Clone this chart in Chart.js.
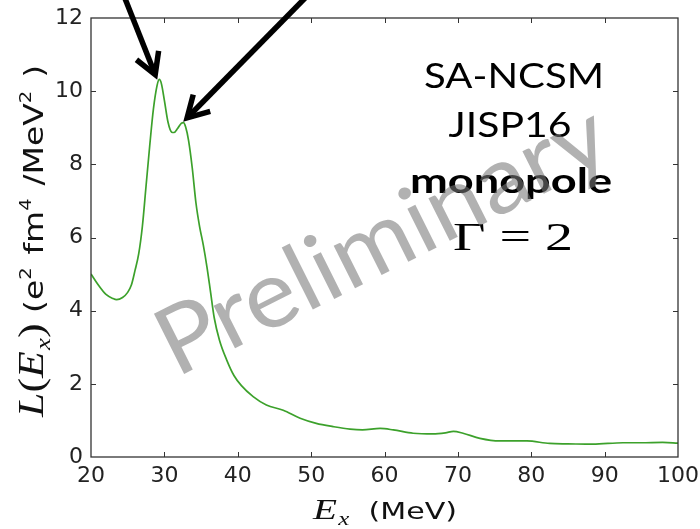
<!DOCTYPE html>
<html>
<head>
<meta charset="utf-8">
<script src="https://cdn.jsdelivr.net/npm/chart.js@4"></script>
<style>
  html, body { margin: 0; padding: 0; background: #fff; }
  #c { display: block; }
</style>
</head>
<body>
<canvas id="c" width="700" height="529"></canvas>
<script>
// ---- data ----
const energies = [20, 21, 22, 23, 23.5, 24.3, 25.0, 25.5, 26.0, 26.5, 27.0, 27.5, 28.0, 28.5, 29.0, 29.3, 29.6, 30.0, 30.5, 31.0, 31.3, 31.8, 32.3, 32.6, 32.9, 33.3, 33.8, 34.3, 34.8, 35.3, 35.8, 36.3, 36.8, 37.5, 38.5, 39.5, 40.5, 42.1, 43.9, 46.2, 48.5, 50.7, 53.0, 55.3, 57.0, 59.4, 61.2, 63.9, 66.6, 68.3, 69.4, 70.7, 73.0, 75.7, 79.4, 82.5, 85.0, 88.4, 92.5, 95.0, 97.9, 100];
const strength = [5.0, 4.7, 4.45, 4.33, 4.3, 4.36, 4.5, 4.7, 5.1, 5.55, 6.3, 7.4, 8.5, 9.5, 10.15, 10.32, 10.2, 9.75, 9.15, 8.88, 8.87, 8.98, 9.12, 9.14, 9.02, 8.65, 7.9, 6.95, 6.3, 5.8, 5.2, 4.5, 3.8, 3.2, 2.65, 2.22, 1.95, 1.65, 1.42, 1.28, 1.06, 0.92, 0.83, 0.76, 0.74, 0.78, 0.74, 0.65, 0.63, 0.66, 0.70, 0.65, 0.51, 0.44, 0.44, 0.37, 0.36, 0.35, 0.39, 0.39, 0.40, 0.38];
const xTicks = [20, 30, 40, 50, 60, 70, 80, 90, 100];
const yTicks = [0, 2, 4, 6, 8, 10, 12];
const annotationLines = ['SA-NCSM', 'JISP16', 'monopole', 'Γ = 2'];
const watermark = 'Preliminary';
// arrows: tails (above the axes) and tips, in data units
const arrowTails = [[24.6, 12.55], [49.2, 12.55]];
const arrowTips = [[28.75, 10.45], [33.1, 9.27]];

const GREEN = '#3ca12b';

const decorPlugin = {
  id: 'decor',
  afterDraw(chart) {
    const ctx = chart.ctx;
    const a = chart.chartArea;
    const xs = chart.scales.x, ys = chart.scales.y;
    ctx.save();
    // frame
    ctx.strokeStyle = '#333';
    ctx.lineWidth = 1.3;
    ctx.strokeRect(a.left, a.top, a.right - a.left, a.bottom - a.top);
    // inward ticks
    ctx.beginPath();
    xTicks.forEach(v => {
      if (v === xs.min || v === xs.max) return;
      const px = Math.round(xs.getPixelForValue(v)) + 0.5;
      ctx.moveTo(px, a.bottom); ctx.lineTo(px, a.bottom - 5);
      ctx.moveTo(px, a.top); ctx.lineTo(px, a.top + 5);
    });
    yTicks.forEach(v => {
      if (v === ys.min || v === ys.max) return;
      const py = Math.round(ys.getPixelForValue(v)) + 0.5;
      ctx.moveTo(a.left, py); ctx.lineTo(a.left + 5, py);
      ctx.moveTo(a.right, py); ctx.lineTo(a.right - 5, py);
    });
    ctx.lineWidth = 1;
    ctx.stroke();

    // annotation text block (horizontally stretched like the reference slide)
    const drawStretched = (txt, font, cx, baseY, targetW) => {
      ctx.font = font;
      const w = ctx.measureText(txt).width;
      const sx = targetW / w;
      ctx.save();
      ctx.translate(cx, baseY);
      ctx.scale(sx, 1);
      ctx.textAlign = 'center';
      ctx.textBaseline = 'alphabetic';
      ctx.fillStyle = '#000';
      ctx.fillText(txt, 0, 0);
      ctx.restore();
    };
    drawStretched(annotationLines[0], '35px Lato', 514, 88, 180);
    drawStretched(annotationLines[1], '35px Lato', 510, 137, 123);
    drawStretched(annotationLines[2], 'bold 35px Lato', 511, 193, 202);
    drawStretched(annotationLines[3], '40px "Liberation Serif"', 513, 250, 120);

    // arrows
    ctx.strokeStyle = '#000';
    ctx.lineWidth = 5.5;
    ctx.lineJoin = 'miter';
    arrowTails.forEach((t, i) => {
      const x0 = xs.getPixelForValue(t[0]), y0 = ys.getPixelForValue(t[1]);
      const x1 = xs.getPixelForValue(arrowTips[i][0]), y1 = ys.getPixelForValue(arrowTips[i][1]);
      const ang = Math.atan2(y0 - y1, x0 - x1);
      ctx.beginPath();
      ctx.moveTo(x0, y0); ctx.lineTo(x1 + 2 * Math.cos(ang), y1 + 2 * Math.sin(ang));
      ctx.stroke();
      const L = 24, da = 0.52;
      ctx.beginPath();
      ctx.moveTo(x1 + L * Math.cos(ang + da), y1 + L * Math.sin(ang + da));
      ctx.lineTo(x1, y1);
      ctx.lineTo(x1 + L * Math.cos(ang - da), y1 + L * Math.sin(ang - da));
      ctx.stroke();
    });

    // watermark
    ctx.save();
    ctx.translate(176, 378);
    ctx.rotate(-26.6 * Math.PI / 180);
    ctx.font = '94px Lato';
    const ww = ctx.measureText(watermark).width;
    ctx.scale(492 / ww, 1);
    ctx.fillStyle = 'rgba(120,120,120,0.58)';
    ctx.textAlign = 'left';
    ctx.textBaseline = 'alphabetic';
    ctx.fillText(watermark, 0, 0);
    ctx.restore();

    // axis titles with mixed fonts, stretched along the text to the reference length
    const drawRuns = (runs, x, y, rot, targetLen) => {
      ctx.save();
      ctx.translate(x, y);
      ctx.rotate(rot);
      let total = 0;
      runs.forEach(r => { ctx.font = r.f; total += ctx.measureText(r.t).width + (r.gap || 0); });
      ctx.scale(targetLen / total, 1);
      ctx.fillStyle = '#111';
      ctx.textAlign = 'left';
      ctx.textBaseline = 'alphabetic';
      let cx = 0;
      runs.forEach(r => {
        ctx.font = r.f;
        ctx.fillText(r.t, cx, r.dy || 0);
        cx += ctx.measureText(r.t).width + (r.gap || 0);
      });
      ctx.restore();
    };
    const serifI = s => 'italic ' + s + 'px "Liberation Serif"';
    const serif = s => s + 'px "Liberation Serif"';
    const sans = s => s + 'px "DejaVu Sans"';
    drawRuns([
      { t: 'E', f: serifI(30), gap: 1 },
      { t: 'x', f: serifI(19), dy: 6 },
      { t: '  (MeV)', f: sans(23) }
    ], 313, 519, 0, 144);
    drawRuns([
      { t: 'L', f: serifI(36) },
      { t: '(', f: serif(36) },
      { t: 'E', f: serifI(36), gap: 1 },
      { t: 'x', f: serifI(22), dy: 7 },
      { t: ')', f: serif(36) },
      { t: ' (e', f: sans(27) },
      { t: '2', f: sans(16), dy: -12, gap: 2 },
      { t: ' fm', f: sans(27) },
      { t: '4', f: sans(16), dy: -12, gap: 2 },
      { t: ' /MeV', f: sans(27) },
      { t: '2', f: sans(16), dy: -12, gap: 2 },
      { t: ' )', f: sans(27) }
    ], 43, 417, -Math.PI / 2, 352);
    ctx.restore();
  }
};

new Chart(document.getElementById('c'), {
  type: 'line',
  data: {
    datasets: [{
      data: energies.map((x, i) => ({ x: x, y: strength[i] })),
      borderColor: GREEN,
      borderWidth: 1.7,
      pointRadius: 0,
      fill: false,
      cubicInterpolationMode: 'monotone'
    }]
  },
  options: {
    responsive: false,
    animation: false,
    devicePixelRatio: 1,
    layout: { padding: { left: 0, right: 22, top: 18, bottom: 0 } },
    plugins: { legend: { display: false }, tooltip: { enabled: false } },
    scales: {
      x: {
        type: 'linear', min: 20, max: 100,
        afterFit: s => { s.height = 72; s.paddingLeft = 0; s.paddingRight = 0; },
        afterBuildTicks: s => { s.ticks = xTicks.map(v => ({ value: v })); },
        ticks: { font: { family: 'DejaVu Sans', size: 22 }, color: '#222', padding: 6, maxRotation: 0, autoSkip: false },
        grid: { display: false, drawTicks: false },
        border: { display: false }
      },
      y: {
        min: 0, max: 12,
        afterFit: s => { s.width = 91; s.paddingTop = 0; s.paddingBottom = 0; },
        afterBuildTicks: s => { s.ticks = yTicks.map(v => ({ value: v })); },
        ticks: { font: { family: 'DejaVu Sans', size: 22 }, color: '#222', padding: 8, autoSkip: false },
        grid: { display: false, drawTicks: false },
        border: { display: false }
      }
    }
  },
  plugins: [decorPlugin]
});
</script>
</body>
</html>
